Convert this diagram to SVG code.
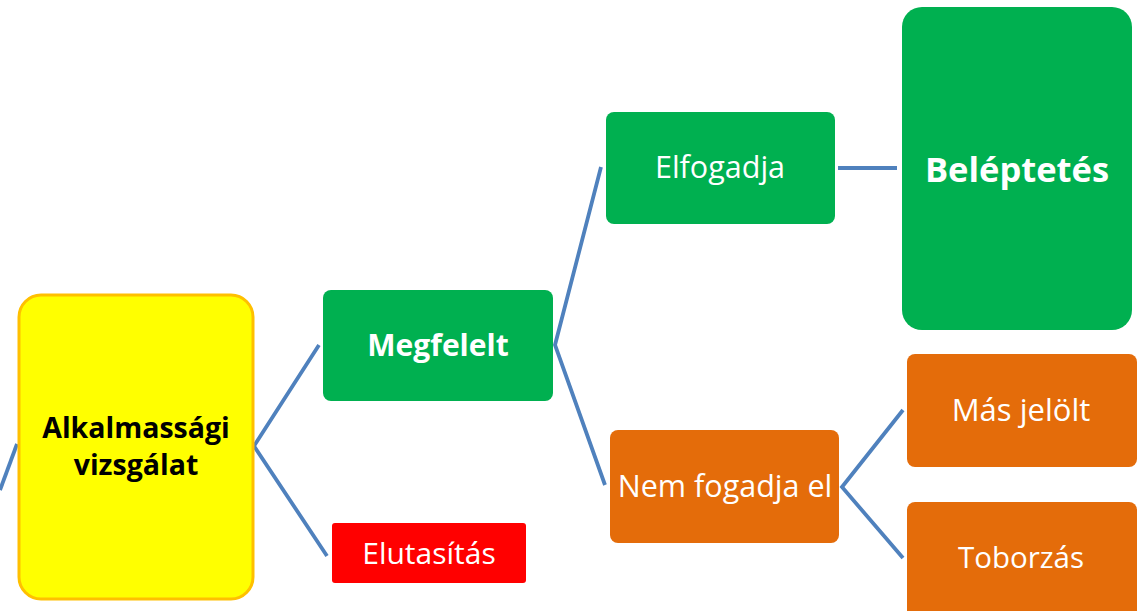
<svg xmlns="http://www.w3.org/2000/svg" width="1146" height="611" viewBox="0 0 1146 611">
<style>
.t{font-family:"Open Sans","Noto Sans",sans-serif;text-anchor:middle;fill:#fff}
.b{font-weight:bold}
.k{fill:#000}
.g{fill:#00B050}
.o{fill:#E46C0A}
.c{fill:none;stroke:#4F81BD;stroke-width:3.8;stroke-linejoin:miter}
</style>
<g id="connectors">
<polyline class="c" points="0,490 17,444"/>
<polyline class="c" points="319,345 254,446 327,556"/>
<polyline class="c" points="601,167 555,345 605,485"/>
<polyline class="c" points="838,168 897,168"/>
<polyline class="c" points="903,410 842,487 903,558"/>
</g>
<g id="alkalmassagi">
<rect x="19" y="295" width="234" height="304" rx="22" fill="#FFFF00" stroke="#FFC000" stroke-width="3"/>
<text class="t b k" x="136" y="438" font-size="28.5">Alkalmassági</text>
<text class="t b k" x="136" y="475" font-size="28.5">vizsgálat</text>
</g>
<g id="megfelelt">
<rect class="g" x="323" y="290" width="230" height="111" rx="8"/>
<text class="t b" x="438" y="356" font-size="30">Megfelelt</text>
</g>
<g id="elutasitas">
<rect x="332" y="523" width="194" height="60" rx="3" fill="#FF0000"/>
<text class="t" x="429" y="564" font-size="30">Elutasítás</text>
</g>
<g id="elfogadja">
<rect class="g" x="606" y="112" width="229" height="112" rx="8"/>
<text class="t" x="720" y="178" font-size="30.5">Elfogadja</text>
</g>
<g id="nemfogadja">
<rect class="o" x="610" y="430" width="229" height="113" rx="8"/>
<text class="t" x="725" y="497" font-size="30.5">Nem fogadja el</text>
</g>
<g id="beleptetes">
<rect class="g" x="902" y="7" width="230" height="323" rx="20"/>
<text class="t b" x="1017" y="182" font-size="34.5">Beléptetés</text>
</g>
<g id="masjelolt">
<rect class="o" x="907" y="354" width="230" height="113" rx="8"/>
<text class="t" x="1021" y="421" font-size="31">Más jelölt</text>
</g>
<g id="toborzas">
<rect class="o" x="907" y="502" width="230" height="118" rx="8"/>
<text class="t" x="1021" y="568" font-size="29.5">Toborzás</text>
</g>
</svg>
